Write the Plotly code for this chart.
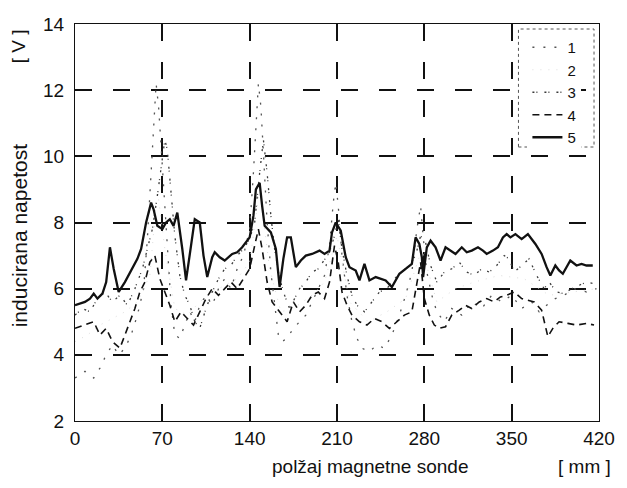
import plotly.graph_objects as go

# induced voltage [V] along the probe position [mm], five measurement runs
pos_1 = [0, 8, 15, 20, 25, 30, 35, 40, 45, 50, 55, 58, 61, 63, 65, 67, 69, 71, 74, 77,
         80, 84, 88, 92, 96, 100, 105, 110, 115, 120, 125, 130, 135, 140, 143, 145, 147, 149,
         151, 154, 157, 160, 163, 166, 170, 175, 180, 185, 190, 195, 200, 204, 207, 209, 211,
         214, 218, 222, 226, 230, 236, 242, 248, 254, 260, 265, 270, 274, 277, 279, 282, 286,
         290, 296, 302, 310, 318, 326, 334, 342, 350, 358, 366, 372, 378, 385, 392, 400, 410, 418]
volt_1 = [3.3, 3.5, 3.3, 3.6, 4.0, 4.3, 4.0, 4.2, 4.6, 5.2, 6.0, 7.5, 9.5, 11.0, 12.2, 11.5,
          10.3, 9.0, 7.0, 5.5, 4.6, 4.5, 4.9, 5.3, 5.0, 5.5, 5.8, 5.5, 6.0, 6.3, 6.0, 6.6, 7.0,
          7.8, 9.5, 11.0, 12.2, 11.5, 10.0, 8.0, 6.5, 5.5, 4.6, 4.4, 4.5, 4.8, 5.0, 5.2, 5.6,
          6.0, 6.4, 7.3, 8.6, 9.2, 8.5, 7.0, 5.8, 5.0, 4.5, 4.2, 4.1, 4.3, 4.2, 4.6, 5.2, 5.8,
          6.5, 7.8, 8.5, 7.6, 6.5, 5.8, 5.3, 5.0, 5.4, 5.2, 5.6, 5.4, 5.8, 5.6, 5.8, 5.4, 5.6,
          5.3, 5.5, 5.7, 5.8, 6.0, 5.9, 6.0]

pos_2 = [0, 10, 20, 30, 40, 50, 60, 66, 72, 80, 90, 100, 110, 120, 130, 140, 148, 156,
         165, 175, 190, 200, 210, 220, 235, 250, 265, 278, 290, 305, 320, 340, 360, 380, 400, 418]
volt_2 = [4.4, 4.6, 4.9, 5.1, 5.3, 5.6, 6.4, 9.0, 7.2, 5.4, 5.2, 5.6, 5.9, 6.1, 6.3, 6.8,
          9.0, 6.6, 5.3, 5.4, 5.8, 6.2, 7.6, 5.6, 5.0, 5.3, 5.7, 7.2, 5.6, 6.0, 6.2, 6.4, 6.3,
          5.8, 5.9, 6.0]

pos_3 = [0, 6, 12, 18, 24, 30, 36, 42, 48, 54, 58, 62, 66, 70, 72, 74, 77, 80, 84, 88,
         92, 96, 100, 105, 110, 115, 120, 125, 130, 135, 140, 144, 148, 151, 154, 157, 160,
         164, 168, 172, 176, 180, 185, 190, 195, 200, 204, 208, 211, 214, 218, 222, 226, 232,
         238, 244, 250, 256, 262, 268, 273, 277, 281, 285, 290, 296, 302, 308, 314, 320, 326,
         332, 338, 344, 348, 352, 358, 364, 370, 376, 380, 386, 392, 398, 404, 410, 416]
volt_3 = [5.2, 5.4, 5.3, 5.7, 5.9, 5.6, 5.8, 5.5, 6.0, 6.6, 7.2, 7.8, 8.8, 10.0, 10.5, 10.2,
          9.0, 7.6, 6.4, 5.8, 5.5, 5.0, 4.8, 5.4, 5.9, 6.3, 6.6, 6.7, 7.0, 7.2, 7.5, 8.0, 9.5,
          10.5, 9.5, 8.2, 7.2, 6.3, 5.8, 5.4, 5.7, 6.0, 6.2, 6.5, 6.6, 6.9, 7.1, 7.6, 8.1, 7.2,
          6.4, 5.8, 5.5, 5.3, 5.6, 5.9, 6.0, 6.3, 6.5, 6.7, 7.0, 7.6, 7.4, 6.7, 6.2, 6.5, 6.6,
          6.8, 6.5, 6.4, 6.6, 6.5, 6.7, 7.0, 6.9, 6.5, 6.7, 6.9, 6.4, 6.0, 6.2, 5.9, 5.85, 6.0,
          6.1, 6.2, 6.15]

pos_4 = [0, 8, 15, 20, 25, 30, 36, 42, 48, 52, 56, 60, 64, 68, 72, 76, 80, 85, 90, 95,
         100, 105, 110, 115, 120, 125, 130, 135, 140, 144, 147, 150, 154, 158, 162, 166, 170,
         175, 180, 185, 190, 195, 200, 204, 208, 211, 214, 218, 222, 228, 234, 240, 246, 252,
         258, 264, 270, 274, 277, 280, 284, 288, 292, 297, 302, 308, 313, 318, 324, 330, 336,
         341, 346, 352, 358, 363, 368, 374, 377, 379, 383, 388, 395, 402, 410, 416]
volt_4 = [4.8, 4.9, 5.0, 4.6, 4.8, 4.4, 4.2, 4.8, 5.4, 5.9, 6.2, 6.8, 7.0, 6.3, 5.9, 5.5,
          5.0, 5.3, 5.1, 4.9, 5.3, 5.7, 6.0, 5.8, 6.0, 6.2, 6.0, 6.3, 6.6, 7.3, 7.8, 7.2, 6.2,
          5.6, 5.4, 5.2, 5.0, 5.6, 5.3, 5.5, 5.8, 5.9, 5.7, 6.2, 7.3, 6.8, 5.9, 5.5, 5.2, 5.0,
          4.9, 5.1, 5.0, 4.8, 5.0, 5.2, 5.3, 6.1, 6.8, 5.7, 5.2, 4.9, 4.8, 4.85, 5.2, 5.35, 5.5,
          5.4, 5.6, 5.7, 5.6, 5.75, 5.8, 5.9, 5.7, 5.65, 5.6, 5.35, 4.9, 4.55, 4.8, 5.0, 4.95,
          4.9, 4.95, 4.9]

pos_5 = [0, 4, 8, 12, 15, 18, 22, 25, 28, 31, 35, 40, 46, 50, 53, 57, 61, 63, 66, 70, 73,
         76, 79, 82, 86, 89, 93, 96, 100, 103, 106, 110, 112, 116, 120, 126, 130, 134, 140,
         143, 145, 148, 150, 152, 157, 161, 164, 167, 170, 173, 177, 181, 185, 190, 196, 200,
         204, 206, 209, 213, 217, 220, 225, 228, 232, 236, 241, 245, 249, 254, 260, 265, 270,
         273, 276, 278, 279, 282, 285, 289, 293, 297, 301, 305, 310, 314, 318, 323, 327, 330,
         335, 339, 343, 346, 349, 353, 358, 363, 369, 374, 378, 381, 385, 388, 391, 397, 402,
         406, 410, 415]
volt_5 = [5.5, 5.55, 5.6, 5.7, 5.85, 5.7, 5.85, 6.2, 7.25, 6.6, 5.9, 6.2, 6.65, 6.9, 7.2,
          8.0, 8.6, 8.4, 7.9, 7.8, 8.0, 8.1, 7.9, 8.3, 7.2, 6.25, 7.3, 8.1, 8.0, 7.0, 6.35,
          6.95, 7.1, 6.95, 6.85, 7.05, 7.1, 7.25, 7.55, 8.2, 9.0, 9.2, 8.5, 7.9, 7.7, 7.2,
          6.05, 6.9, 7.55, 7.55, 6.65, 6.85, 7.0, 7.05, 7.15, 7.05, 7.15, 7.7, 8.0, 7.75, 6.95,
          6.65, 6.55, 6.25, 6.75, 6.25, 6.35, 6.3, 6.25, 6.05, 6.45, 6.6, 6.75, 7.55, 7.35,
          6.95, 6.35, 7.25, 7.45, 7.25, 6.85, 7.25, 7.15, 7.05, 7.25, 7.1, 7.15, 7.25, 7.15,
          7.05, 7.15, 7.25, 7.55, 7.65, 7.55, 7.65, 7.5, 7.65, 7.35, 7.05, 6.65, 6.4, 6.7,
          6.55, 6.45, 6.85, 6.7, 6.75, 6.7, 6.7]

x_ticks = [0, 70, 140, 210, 280, 350, 420]
y_ticks = [2, 4, 6, 8, 10, 12, 14]

font = "Liberation Sans, Arial, sans-serif"
ink = "#111111"

W, H = 627, 488
L, R, T, B = 75, 25, 24, 67
PW, PH = W - L - R, H - T - B


def px_to_paper(x, y):
    """Page pixel -> paper coordinates."""
    return (x - L) / PW, 1 - (y - T) / PH


fig = go.Figure()
series = [
    ("1", pos_1, volt_1, dict(color="#555555", width=1.3, dash="2px,9px")),
    ("2", pos_2, volt_2, dict(color="#dddddd", width=1, dash="1px,7px")),
    ("3", pos_3, volt_3, dict(color="#3a3a3a", width=1.3, dash="2px,2px,1px,7px")),
    ("4", pos_4, volt_4, dict(color=ink, width=1.6, dash="7px,5px")),
    ("5", pos_5, volt_5, dict(color=ink, width=2.3)),
]
for name, xs, ys, line in series:
    fig.add_trace(go.Scatter(x=xs, y=ys, name=name, mode="lines", line=line))

grid = dict(showgrid=True, gridcolor=ink, gridwidth=1.6, griddash="17px,21px",
            showline=True, linecolor=ink, linewidth=1.3, mirror=True,
            ticks="inside", ticklen=8, tickcolor=ink, zeroline=False,
            tickfont=dict(family=font, size=19, color=ink))
fig.update_xaxes(range=[0, 420], tickvals=x_ticks, **grid)
fig.update_yaxes(range=[2, 14], tickvals=y_ticks, ticklabelstandoff=6, **grid)

lx, ly = px_to_paper(530, 31)
bx0, by1 = px_to_paper(521, 29)
bx1, by0 = px_to_paper(597, 147)

annotations = []
for text, x, y, angle, size in [
    ("polžaj magnetne sonde", 372, 466, 0, 19),
    ("[ mm ]", 587, 466, 0, 19),
    ("inducirana napetost", 20, 236, -90, 21),
    ("[ V ]", 19, 46, -90, 19),
]:
    ax, ay = px_to_paper(x, y)
    annotations.append(dict(text=text, x=ax, y=ay, xref="paper", yref="paper",
                            xanchor="center", yanchor="middle",
                            textangle=angle, showarrow=False,
                            font=dict(family=font, size=size, color=ink)))

fig.update_layout(
    width=W, height=H,
    margin=dict(l=L, r=R, t=T, b=B),
    paper_bgcolor="white", plot_bgcolor="white",
    font=dict(family=font, size=19, color=ink),
    legend=dict(x=lx, y=ly, xanchor="left", yanchor="top",
                bgcolor="white", borderwidth=0,
                font=dict(family=font, size=15, color=ink), tracegroupgap=0),
    shapes=[dict(type="rect", xref="paper", yref="paper", x0=bx0, x1=bx1, y0=by0, y1=by1,
                 line=dict(color="#555555", width=1, dash="dot"))],
    annotations=annotations,
)

# drop the default page margin so the figure sits at the top-left corner
fig.write_html("out.html", config={"displayModeBar": False},
               post_script="document.body.style.margin='0';")
